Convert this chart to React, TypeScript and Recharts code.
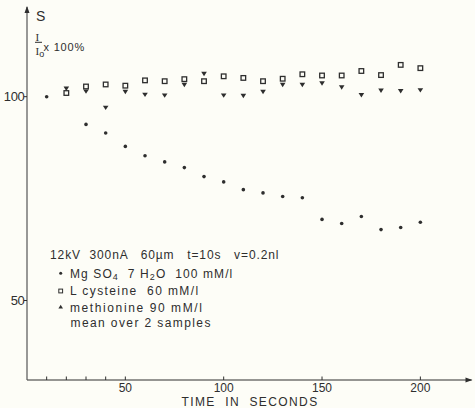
import { ScatterChart, Scatter, XAxis, YAxis, ReferenceDot } from "recharts";

// seconds
const times = [10, 20, 30, 40, 50, 60, 70, 80, 90, 100, 110, 120, 130, 140, 150, 160, 170, 180, 190, 200];
// I/I0 x 100 %
const mgso4 = [100, null, 93.2, 91.1, 87.8, 85.5, 84.0, 82.6, 80.4, 79.1, 77.2, 76.4, 75.5, 75.2, 69.9, 68.9, 70.6, 67.4, 67.9, 69.2];
const cysteine = [null, 100.9, 102.5, 103.0, 102.7, 104.0, 103.8, 104.3, 103.8, 105.0, 104.6, 103.8, 104.4, 105.5, 105.2, 105.2, 106.3, 105.3, 107.8, 107.0];
const methionine = [null, 102.0, 101.3, 97.3, 101.2, 100.5, 100.3, 102.9, 105.6, 100.3, 100.2, 101.2, 102.9, 102.9, 103.3, 102.3, 100.4, 101.5, 101.4, 101.6];

const xTicks = [10, 20, 30, 40, 50, 100, 150, 200];
const yTicks = [50, 100];

const INK = "#2e2e2e";
const BG = "#fdfdf7";
const FONT = "'Liberation Sans', Arial, sans-serif";
const SERIF = "'Liberation Serif', serif";

const toPoints = (vals: (number | null)[]) =>
  times.map((t, i) => ({ t, v: vals[i] })).filter((p) => p.v !== null);

const DotShape = (p: any) => <circle cx={p.cx} cy={p.cy} r={1.8} fill={INK} />;
const SquareShape = (p: any) => (
  <rect x={p.cx - 2.3} y={p.cy - 2.3} width={4.6} height={4.6} fill="none" stroke={INK} strokeWidth={1.3} />
);
const TriShape = (p: any) => (
  <path d={`M${p.cx - 2.8},${p.cy - 2} L${p.cx + 2.8},${p.cy - 2} L${p.cx},${p.cy + 2.4} Z`} fill={INK} />
);

function XTick({ x, y, payload }: any) {
  const major = payload.value % 50 === 0;
  return (
    <g>
      <line x1={x} y1={y} x2={x} y2={y - 3.5} stroke={INK} strokeWidth={1} />
      {major && (
        <text x={x} y={y + 12} textAnchor="middle" fontSize={12} fill={INK} fontFamily={FONT}>
          {payload.value}
        </text>
      )}
    </g>
  );
}

function YTick({ x, y, payload }: any) {
  return (
    <g>
      <line x1={x - 3} y1={y} x2={x} y2={y} stroke={INK} strokeWidth={1} />
      <text x={x - 2.5} y={y + 4.5} textAnchor="end" fontSize={13} fill={INK} fontFamily={FONT} letterSpacing={-0.3}>
        {payload.value}
      </text>
    </g>
  );
}

const ArrowRight = (p: any) => (
  <path d={`M${p.cx - 6},${p.cy - 2.5} L${p.cx + 1},${p.cy} L${p.cx - 6},${p.cy + 2.5} Z`} fill={INK} />
);
const ArrowUp = (p: any) => (
  <path d={`M${p.cx - 2.5},${p.cy + 6} L${p.cx},${p.cy - 1} L${p.cx + 2.5},${p.cy + 6} Z`} fill={INK} />
);

export default function App() {
  const txt = { fill: INK, fontFamily: FONT, fontSize: 12, letterSpacing: 1.4, style: { whiteSpace: "pre" as const } };
  return (
    <div style={{ position: "absolute", left: 0, top: 0, width: 475, height: 408, background: BG }}>
      <ScatterChart width={475} height={408} margin={{ top: 7, right: 3.5, bottom: 0, left: 0 }}>
        <XAxis
          type="number"
          dataKey="t"
          domain={[0, 226]}
          ticks={xTicks}
          interval={0}
          height={28}
          tickSize={0}
          tickMargin={0}
          tickLine={false}
          tick={<XTick />}
          axisLine={{ stroke: INK, strokeWidth: 1.2 }}
        />
        <YAxis
          type="number"
          dataKey="v"
          domain={[30.5, 122]}
          ticks={yTicks}
          width={27}
          tickSize={0}
          tickMargin={0}
          tickLine={false}
          tick={<YTick />}
          axisLine={{ stroke: "#555", strokeWidth: 1.2 }}
        />
        <ReferenceDot x={226} y={30.5} shape={ArrowRight} />
        <ReferenceDot x={0} y={122} shape={ArrowUp} />
        <Scatter data={toPoints(mgso4)} shape={DotShape} isAnimationActive={false} />
        <Scatter data={toPoints(cysteine)} shape={SquareShape} isAnimationActive={false} />
        <Scatter data={toPoints(methionine)} shape={TriShape} isAnimationActive={false} />

        <g>
          <text x={36} y={21} fontSize={14} fill={INK} fontFamily={FONT}>S</text>
          <text x={35.5} y={40.5} fontSize={11} fill={INK} fontFamily={SERIF}>I</text>
          <line x1={35} y1={42.3} x2={42} y2={42.3} stroke={INK} strokeWidth={1} />
          <text x={35.5} y={55} fontSize={11} fill={INK} fontFamily={SERIF}>
            I<tspan fontSize={9} dy={1.5} fontFamily={FONT}>o</tspan>
          </text>
          <text x={43.5} y={50.7} fontSize={11} fill={INK} fontFamily={FONT} letterSpacing={0.8} style={{ whiteSpace: "pre" }}>
            x 100%
          </text>

          <text x={50} y={259.3} {...txt} letterSpacing={0.9}>
            12kV  300nA   60µm   t=10s   v=0.2nl
          </text>

          <circle cx={60.7} cy={273.3} r={1.5} fill={INK} />
          <text x={70} y={277.7} {...txt} letterSpacing={1.1}>
            Mg SO<tspan fontSize={9} dy={2}>4</tspan>
            <tspan dy={-2}>  7 H</tspan>
            <tspan fontSize={9} dy={2}>2</tspan>
            <tspan dy={-2}>O  100 mM/l</tspan>
          </text>

          <rect x={58.8} y={289.1} width={3.8} height={3.8} fill="none" stroke={INK} strokeWidth={1} />
          <text x={70} y={295.3} {...txt}>
            L cysteine  60 mM/l
          </text>

          <path d="M58.4,308.6 L63,308.6 L60.7,304.8 Z" fill={INK} />
          <text x={70} y={311.7} {...txt} letterSpacing={1.6}>
            methionine 90 mM/l
          </text>

          <text x={70.5} y={326.5} {...txt}>
            mean over 2 samples
          </text>

          <text x={250} y={406} textAnchor="middle" fontSize={12} fill={INK} fontFamily={FONT} letterSpacing={1.4} style={{ whiteSpace: "pre" }}>
            TIME  IN  SECONDS
          </text>
        </g>
      </ScatterChart>
    </div>
  );
}
